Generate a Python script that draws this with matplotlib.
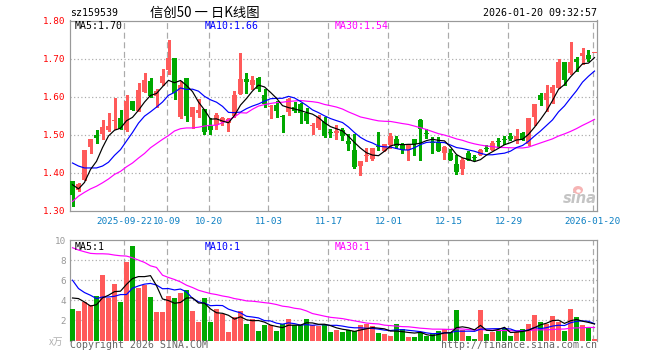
import matplotlib
matplotlib.use('Agg')
import matplotlib.pyplot as plt
from matplotlib.patches import Ellipse
import numpy as np
import pandas as pd

# ---------------- data ----------------
tick_labels = ['2025-09-22', '10-09', '10-20', '11-03', '11-17', '12-01', '12-15', '12-29', '2026-01-20']
tick_index = [9, 16, 23, 33, 43, 53, 63, 73, 87]

opens = [1.378, 1.354, 1.382, 1.468, 1.500, 1.502, 1.512, 1.535, 1.543, 1.512,
         1.590, 1.562, 1.613, 1.641, 1.602, 1.635, 1.670, 1.701, 1.547, 1.648,
         1.547, 1.556, 1.569, 1.523, 1.525, 1.533, 1.532, 1.549, 1.608, 1.647,
         1.632, 1.648, 1.604, 1.573, 1.577, 1.548, 1.560, 1.574, 1.580, 1.558,
         1.522, 1.518, 1.536, 1.506, 1.506, 1.512, 1.483, 1.461, 1.418, 1.445,
         1.437, 1.469, 1.457, 1.472, 1.489, 1.475, 1.460, 1.488, 1.540, 1.505,
         1.480, 1.481, 1.453, 1.453, 1.424, 1.409, 1.451, 1.442, 1.448, 1.465,
         1.461, 1.482, 1.489, 1.498, 1.486, 1.504, 1.475, 1.547, 1.604, 1.591,
         1.611, 1.624, 1.691, 1.661, 1.698, 1.707, 1.709, 1.714]
highs = [1.378, 1.373, 1.461, 1.490, 1.512, 1.539, 1.558, 1.597, 1.564, 1.604,
         1.590, 1.637, 1.661, 1.650, 1.621, 1.674, 1.748, 1.701, 1.641, 1.648,
         1.574, 1.593, 1.569, 1.545, 1.558, 1.548, 1.545, 1.615, 1.714, 1.661,
         1.654, 1.652, 1.621, 1.577, 1.590, 1.553, 1.597, 1.586, 1.584, 1.571,
         1.532, 1.553, 1.546, 1.516, 1.527, 1.518, 1.501, 1.503, 1.430, 1.466,
         1.466, 1.508, 1.477, 1.505, 1.498, 1.479, 1.475, 1.490, 1.542, 1.514,
         1.495, 1.495, 1.470, 1.463, 1.448, 1.439, 1.457, 1.448, 1.463, 1.472,
         1.483, 1.492, 1.496, 1.505, 1.514, 1.507, 1.545, 1.580, 1.609, 1.632,
         1.632, 1.700, 1.691, 1.744, 1.703, 1.729, 1.723, 1.716]
lows = [1.312, 1.352, 1.382, 1.451, 1.479, 1.488, 1.510, 1.514, 1.514, 1.510,
        1.565, 1.562, 1.613, 1.600, 1.574, 1.632, 1.659, 1.595, 1.545, 1.536,
        1.518, 1.547, 1.501, 1.501, 1.514, 1.525, 1.510, 1.547, 1.606, 1.611,
        1.619, 1.614, 1.574, 1.543, 1.547, 1.507, 1.553, 1.560, 1.530, 1.532,
        1.501, 1.516, 1.494, 1.495, 1.489, 1.486, 1.461, 1.414, 1.394, 1.432,
        1.434, 1.460, 1.457, 1.466, 1.466, 1.451, 1.435, 1.448, 1.435, 1.492,
        1.453, 1.457, 1.437, 1.433, 1.398, 1.396, 1.435, 1.433, 1.446, 1.457,
        1.461, 1.468, 1.475, 1.486, 1.479, 1.486, 1.472, 1.527, 1.577, 1.562,
        1.584, 1.624, 1.632, 1.659, 1.668, 1.685, 1.694, 1.714]
closes = [1.341, 1.371, 1.461, 1.488, 1.491, 1.521, 1.524, 1.536, 1.514, 1.590,
          1.565, 1.617, 1.643, 1.602, 1.615, 1.654, 1.701, 1.611, 1.632, 1.549,
          1.574, 1.564, 1.507, 1.512, 1.552, 1.545, 1.542, 1.604, 1.647, 1.639,
          1.643, 1.619, 1.580, 1.576, 1.562, 1.546, 1.593, 1.562, 1.556, 1.536,
          1.524, 1.547, 1.496, 1.504, 1.508, 1.496, 1.475, 1.416, 1.430, 1.447,
          1.466, 1.467, 1.475, 1.498, 1.470, 1.460, 1.472, 1.475, 1.514, 1.503,
          1.478, 1.457, 1.468, 1.435, 1.403, 1.435, 1.435, 1.440, 1.461, 1.463,
          1.479, 1.480, 1.487, 1.488, 1.498, 1.488, 1.545, 1.580, 1.591, 1.609,
          1.625, 1.691, 1.644, 1.691, 1.692, 1.714, 1.700, 1.716]
volumes = [3.1, 2.9, 3.83, 3.57, 4.4, 6.5, 4.23, 5.6, 3.8, 7.8,
           9.4, 5.2, 5.57, 4.3, 2.8, 2.8, 4.4, 4.23, 4.7, 5.0,
           2.9, 1.8, 4.2, 1.8, 3.1, 2.63, 0.8, 2.3, 2.97, 1.6,
           2.17, 0.9, 1.5, 1.5, 0.9, 1.6, 2.1, 1.53, 1.5, 2.1,
           1.5, 1.43, 1.57, 0.8, 1.0, 0.8, 1.0, 0.93, 1.5, 1.6,
           1.4, 0.7, 0.6, 0.4, 1.6, 1.1, 0.3, 0.3, 0.8, 0.4,
           0.6, 0.9, 1.1, 0.8, 3.0, 1.0, 0.4, 0.1, 3.0, 0.6,
           0.8, 1.0, 1.17, 0.4, 0.8, 1.1, 1.6, 2.5, 1.8, 1.6,
           2.4, 1.8, 0.9, 3.1, 2.3, 1.5, 1.2, 0.1]

# moving-average values before a full window exists
ma5_head = [1.369, 1.358, 1.375, 1.409]
ma10_head = [1.426, 1.418, 1.413, 1.413, 1.413, 1.418, 1.428, 1.446, 1.461]
ma30_head = [1.325, 1.339, 1.349, 1.358, 1.365, 1.374, 1.384, 1.396, 1.404, 1.416,
             1.426, 1.439, 1.451, 1.466, 1.477, 1.488, 1.498, 1.510, 1.516, 1.518,
             1.518, 1.520, 1.523, 1.525, 1.525, 1.532, 1.539, 1.547, 1.558]
vma5_head = [4.23, 4.17, 3.83, 3.43]
vma10_head = [6.0, 5.17, 4.77, 4.5, 4.17, 4.33, 4.33, 4.4, 4.57]
vma30_head = [9.23, 9.0, 8.83, 8.67, 8.63, 8.63, 8.6, 8.5, 8.43, 8.4,
              8.23, 8.0, 7.77, 7.43, 7.27, 6.5, 6.27, 6.07, 5.83, 5.5,
              5.27, 5.0, 4.83, 4.67, 4.57, 4.43, 4.33, 4.17, 4.07]


def moving_average(values, n, head):
    s = pd.Series(values, dtype=float).rolling(n).mean().to_numpy()
    s[:n - 1] = head
    return s


# ---------------- style ----------------
RED = '#ff5a5a'
GREEN = '#00a800'
FRAME = '#999999'
GRID = '#aaaaaa'
MONO = 'DejaVu Sans Mono'
CJK = ['Noto Sans CJK SC', 'DejaVu Sans']
LW = 0.72  # 1 px

plt.rcParams['font.family'] = [MONO, 'Noto Sans CJK SC']

W, H = 660, 360
fig = plt.figure(figsize=(6.6, 3.6), dpi=100)
fig.patch.set_facecolor('white')


def fx(x):
    return x / W


def fy(y):
    return 1 - y / H


ax = fig.add_axes([fx(70), fy(211), 527 / W, (211 - 20.5) / H])
axv = fig.add_axes([fx(70), fy(340.5), 527 / W, (340.5 - 240) / H])

n = len(closes)
x = np.arange(n)
o = np.array(opens)
h = np.array(highs)
l = np.array(lows)
c = np.array(closes)
v = np.array(volumes)
up = c >= o
colors = np.where(up, RED, GREEN)
xlim = ((70 - 72.5) / 6, (597 - 72.5) / 6)
grid_x = np.array(tick_index) - 1 / 3

for a in (ax, axv):
    a.set_xlim(*xlim)
    for s in a.spines.values():
        s.set_color(FRAME)
        s.set_linewidth(LW * 1.2)
    for gx in grid_x:
        a.axvline(gx, color=GRID, lw=LW * 1.2, ls=(0, (5, 3)), zorder=0.5)

# ---- price panel ----
ax.set_ylim(1.30, 1.80)
for gy in [1.40, 1.50, 1.60, 1.70]:
    ax.axhline(gy, color=GRID, lw=LW * 1.2, ls=(0, (1, 2)), zorder=0.5)

# sina watermark (behind the data)
ax.text(0.968, 0.028, 'sina', transform=ax.transAxes, ha='center', va='bottom',
        fontsize=10.5, fontweight='bold', style='italic', color='#c4c4c4',
        family='DejaVu Sans', zorder=1)
fig.add_artist(Ellipse((fx(578), fy(190)), 10 / W, 8 / H, transform=fig.transFigure,
                       facecolor='#f6b4b4', edgecolor='none', zorder=1))
fig.add_artist(Ellipse((fx(578.5), fy(191)), 4.5 / W, 3.5 / H, transform=fig.transFigure,
                       facecolor='#ffffff', edgecolor='none', zorder=1))

body_bottom = np.minimum(o, c)
body_height = np.maximum(np.abs(c - o), 0.0027)
ax.vlines(x, l, h, colors=colors, lw=LW * 1.2, zorder=2, antialiased=False)
ax.bar(x, body_height, width=5 / 6, bottom=body_bottom, color=colors,
       linewidth=0, zorder=3, antialiased=False)

ma5 = moving_average(closes, 5, ma5_head)
ma10 = moving_average(closes, 10, ma10_head)
ma30 = moving_average(closes, 30, ma30_head)
ax.plot(x, ma30, color='#ff00ff', lw=LW * 1.2, zorder=4)
ax.plot(x, ma10, color='#0000ff', lw=LW * 1.2, zorder=5)
ax.plot(x, ma5, color='black', lw=LW * 1.2, zorder=6)

ax.set_yticks([1.30, 1.40, 1.50, 1.60, 1.70, 1.80])
ax.set_yticklabels([f'{t:.2f}' for t in [1.30, 1.40, 1.50, 1.60, 1.70, 1.80]])
ax.tick_params(axis='y', length=0, pad=3.6, labelsize=6.7, labelcolor='#ff0000')
ax.set_xticks(grid_x)
ax.set_xticklabels(tick_labels)
ax.tick_params(axis='x', length=0, pad=4.0, labelsize=6.7, labelcolor='#0a7ec2')

# ---- volume panel ----
axv.set_ylim(0, 10)
for gy in [2, 4, 6, 8]:
    axv.axhline(gy, color=GRID, lw=LW * 1.2, ls=(0, (1, 2)), zorder=0.5)
axv.bar(x, v, width=5 / 6, color=colors, linewidth=0, zorder=3, antialiased=False)
vma5 = moving_average(volumes, 5, vma5_head)
vma10 = moving_average(volumes, 10, vma10_head)
vma30 = moving_average(volumes, 30, vma30_head)
axv.plot(x, vma30, color='#ff00ff', lw=LW * 1.2, zorder=4)
axv.plot(x, vma10, color='#0000ff', lw=LW * 1.2, zorder=5)
axv.plot(x, vma5, color='black', lw=LW * 1.2, zorder=6)
axv.spines['bottom'].set_visible(False)
axv.set_yticks([2, 4, 6, 8, 10])
axv.set_yticklabels(['2', '4', '6', '8', '10'])
axv.tick_params(axis='y', length=0, pad=2.9, labelsize=6.7, labelcolor='#999999')
axv.set_xticks([])

# ---- texts ----
fig.text(fx(70), fy(13), 'sz159539', ha='left', va='center', fontsize=7.1, color='black')
fig.text(fx(150), fy(13), '信创50 一 日K线图', ha='left', va='center', fontsize=9.6,
         color='black', family=CJK)
fig.text(fx(597), fy(13.3), '2026-01-20 09:32:57', ha='right', va='center',
         fontsize=7.2, color='black')

fig.text(fx(75), fy(26), 'MA5:1.70', ha='left', va='center', fontsize=7.1, color='black')
fig.text(fx(205), fy(26), 'MA10:1.66', ha='left', va='center', fontsize=7.1, color='#0000ff')
fig.text(fx(335), fy(26), 'MA30:1.54', ha='left', va='center', fontsize=7.1, color='#ff00ff')

fig.text(fx(75), fy(246.5), 'MA5:1', ha='left', va='center', fontsize=7.1, color='black')
fig.text(fx(205), fy(246.5), 'MA10:1', ha='left', va='center', fontsize=7.1, color='#0000ff')
fig.text(fx(335), fy(246.5), 'MA30:1', ha='left', va='center', fontsize=7.1, color='#ff00ff')

fig.text(fx(63), fy(341.5), 'x万', ha='right', va='center', fontsize=7, color='#b0b0b0', family=CJK)
fig.text(fx(70), fy(345.5), 'Copyright 2026 SINA.COM', ha='left', va='center',
         fontsize=7.1, color='#666666')
fig.text(fx(597), fy(345.5), 'http://finance.sina.com.cn', ha='right', va='center',
         fontsize=7.1, color='#666666')

fig.savefig('out.png', dpi=100, facecolor='white')
